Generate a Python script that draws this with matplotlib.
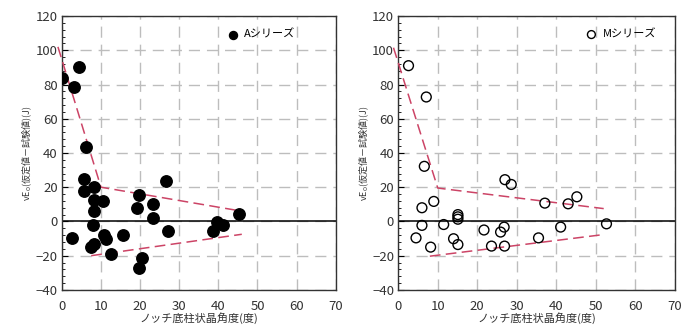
import matplotlib
matplotlib.use('Agg')
import matplotlib.pyplot as plt
from matplotlib.ticker import MultipleLocator, AutoMinorLocator

plt.rcParams['font.family'] = ['Noto Sans CJK JP', 'DejaVu Sans']

# A series: notch-root columnar crystal angle vs (assumed - measured) vE0
a_angle = [0.0, 4.3, 3.2, 6.2, 5.7, 5.6, 8.1, 8.1, 10.4, 8.1, 7.9, 2.6, 7.5, 8.2,
           10.7, 11.3, 15.6, 12.6, 19.7, 19.1, 23.2, 23.2, 26.7, 27.2, 20.5, 19.7,
           38.7, 39.7, 41.3, 45.3]
a_diff = [84, 90, 78.5, 43.5, 24.8, 17.5, 20, 12.3, 11.7, 6, -1.8, -9.6, -15, -13,
          -8.2, -10, -7.8, -19.3, 15.4, 7.6, 10.1, 2.3, 23.8, -5.3, -21.4, -27,
          -5.3, -0.4, -2, 4.5]

# M series
m_angle = [2.6, 7.1, 6.6, 6.0, 9.0, 6.0, 4.5, 8.2, 11.5, 15.1, 15.1, 15.1, 14.0,
           15.1, 21.7, 23.6, 25.9, 26.8, 26.9, 27.0, 28.6, 35.5, 37.1, 41.1, 43.0,
           45.2, 52.7]
m_diff = [91, 72.7, 32.2, 8, 11.7, -2.3, -9.6, -15, -1.8, 4, 2.7, 1.3, -10.1,
          -13.5, -5, -14.4, -6.2, -3.3, -14.4, 24.4, 21.6, -9.6, 10.7, -3.3, 10.3,
          14.4, -1.4]

# dashed envelope lines (upper bend + lower bound)
a_upper_x = [-1, 10, 46]
a_upper_y = [102, 20, 6]
a_lower_x = [7.5, 46]
a_lower_y = [-20, -7.5]

m_upper_x = [-1.2, 10, 52]
m_upper_y = [101.5, 19.5, 7.5]
m_lower_x = [8, 51.5]
m_lower_y = [-20.3, -7.8]

xlabel = 'ノッチ底柱状晶角度(度)'
ylabel = 'vE$_0$(仮定値－試験値)(J)'
env_color = '#cc4466'
text_color = '#333333'

fig = plt.figure(figsize=(6.95, 3.34), dpi=100)
ax1 = fig.add_axes([0.089, 0.132, 0.394, 0.820])
ax2 = fig.add_axes([0.573, 0.132, 0.398, 0.820])


def style_axes(ax):
    ax.set_xlim(0, 70)
    ax.set_ylim(-40, 120)
    ax.xaxis.set_major_locator(MultipleLocator(10))
    ax.yaxis.set_major_locator(MultipleLocator(20))
    ax.yaxis.set_minor_locator(AutoMinorLocator(5))
    ax.grid(True, which='major', color='#bdbdbd', linestyle=(0, (8, 5)), linewidth=1.0)
    ax.set_axisbelow(True)
    ax.axhline(0, color='black', linewidth=1.1, zorder=2)
    ax.tick_params(axis='both', which='both', direction='in', labelsize=9.5,
                   labelcolor=text_color)
    ax.tick_params(axis='y', which='major', length=4, pad=3)
    ax.tick_params(axis='y', which='minor', length=2.5)
    ax.tick_params(axis='x', which='major', length=0, pad=7)
    for s in ax.spines.values():
        s.set_linewidth(1.0)
        s.set_color(text_color)
    ax.set_xlabel(xlabel, fontsize=8, labelpad=0, color=text_color)
    ax.set_ylabel(ylabel, fontsize=6.5, labelpad=1, color=text_color)


style_axes(ax1)
ax1.plot(a_upper_x, a_upper_y, color=env_color, linestyle=(0, (7, 3.5)), linewidth=1.1,
         clip_on=False, zorder=3)
ax1.plot(a_lower_x, a_lower_y, color=env_color, linestyle=(0, (7, 3.5)), linewidth=1.1,
         zorder=3)
ax1.scatter(a_angle, a_diff, s=68, color='black', zorder=4, label='Aシリーズ')
ax1.legend(loc='upper right', bbox_to_anchor=(0.88, 0.98), frameon=False, fontsize=8,
           handletextpad=0.0, markerscale=0.7, borderaxespad=0.3)

style_axes(ax2)
ax2.plot(m_upper_x, m_upper_y, color=env_color, linestyle=(0, (7, 3.5)), linewidth=1.1,
         clip_on=False, zorder=3)
ax2.plot(m_lower_x, m_lower_y, color=env_color, linestyle=(0, (7, 3.5)), linewidth=1.1,
         zorder=3)
ax2.scatter(m_angle, m_diff, s=50, facecolors='none', edgecolors='black',
            linewidths=1.0, zorder=4, label='Mシリーズ')
ax2.legend(loc='upper right', bbox_to_anchor=(0.96, 0.98), frameon=False, fontsize=8,
           handletextpad=0.0, markerscale=0.8, borderaxespad=0.3)

fig.savefig('out.png', dpi=100)
